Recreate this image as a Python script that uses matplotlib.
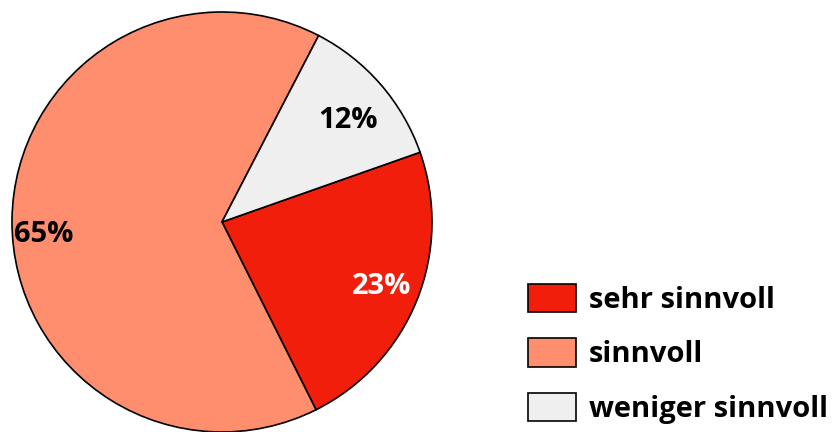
import numpy as np
import matplotlib.pyplot as plt

# donnees du camembert
labels = ['sehr sinnvoll', 'sinnvoll', 'weniger sinnvoll']
values = [23, 65, 12]
colors = ['#f01e0a', '#ff8e6e', '#efefef']
text_colors = ['white', 'black', 'black']
label_dist = [0.82, 0.85, 0.77]   # distance des etiquettes au centre
label_shift = [0, 4.5, -2]        # petit decalage angulaire (degres)

plt.rcParams['font.family'] = ['Open Sans', 'DejaVu Sans']

fig = plt.figure(figsize=(8.34, 4.32), dpi=100)
ax = fig.add_axes([12 / 834, 0, 420 / 834, 420 / 432])

wedges, texts, autotexts = ax.pie(values, colors=colors, startangle=19.4, counterclock=False,
                                  autopct='%d%%', pctdistance=0.8,
                                  wedgeprops={'edgecolor': 'black', 'linewidth': 1.2},
                                  textprops={'fontsize': 21, 'fontweight': 'bold'})
for w, t, c, d, s in zip(wedges, autotexts, text_colors, label_dist, label_shift):
    ang = np.deg2rad((w.theta1 + w.theta2) / 2 + s)
    t.set_position((d * np.cos(ang), d * np.sin(ang)))
    t.set_color(c)
ax.set_xlim(-1, 1)
ax.set_ylim(-1, 1)

leg = fig.legend(wedges, labels, loc='lower left', bbox_to_anchor=(528 / 834, 8 / 432),
                 frameon=False, borderpad=0, borderaxespad=0, handlelength=1.64, handleheight=1.13,
                 handletextpad=0.45, labelspacing=0.8,
                 prop={'size': 21, 'weight': 'bold'})

fig.savefig('out.png', dpi=100)
